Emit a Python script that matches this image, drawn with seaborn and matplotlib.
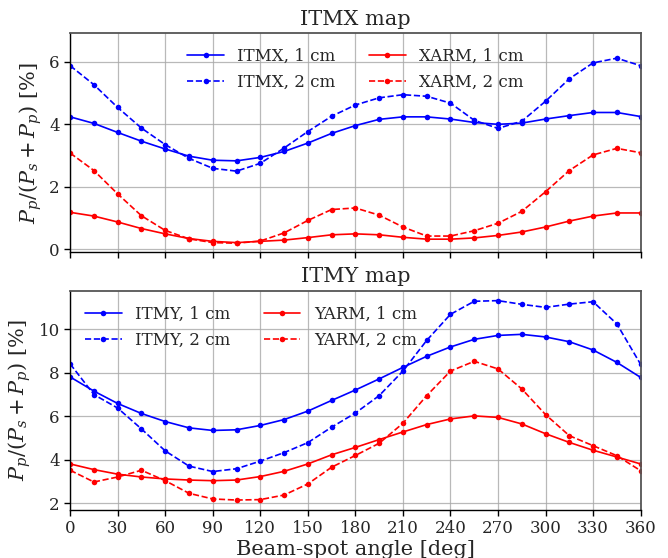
import numpy as np
import pandas as pd
import matplotlib
matplotlib.use("Agg")
import matplotlib.pyplot as plt
import seaborn as sns

# ── Datos ─────────────────────────────────────────────────
angles = list(range(0, 361, 15))

itmx_1cm = [4.24, 4.03, 3.74, 3.46, 3.21, 2.98, 2.85, 2.83, 2.94, 3.13, 3.40, 3.71, 3.96,
            4.16, 4.24, 4.24, 4.17, 4.06, 4.00, 4.04, 4.17, 4.28, 4.38, 4.38, 4.25]
itmx_2cm = [5.88, 5.27, 4.54, 3.88, 3.35, 2.91, 2.59, 2.50, 2.75, 3.24, 3.77, 4.26, 4.62,
            4.85, 4.95, 4.90, 4.68, 4.13, 3.87, 4.10, 4.74, 5.46, 5.97, 6.12, 5.88]
xarm_1cm = [1.18, 1.06, 0.87, 0.66, 0.49, 0.34, 0.25, 0.21, 0.25, 0.29, 0.37, 0.46, 0.49,
            0.46, 0.38, 0.32, 0.32, 0.36, 0.44, 0.55, 0.71, 0.90, 1.06, 1.16, 1.16]
xarm_2cm = [3.08, 2.52, 1.77, 1.07, 0.60, 0.33, 0.21, 0.19, 0.26, 0.52, 0.92, 1.27, 1.32,
            1.09, 0.71, 0.42, 0.42, 0.59, 0.83, 1.21, 1.84, 2.52, 3.02, 3.23, 3.09]

itmy_1cm = [7.81, 7.16, 6.59, 6.13, 5.76, 5.47, 5.35, 5.38, 5.58, 5.85, 6.24, 6.73, 7.21,
            7.72, 8.25, 8.76, 9.19, 9.54, 9.72, 9.77, 9.65, 9.43, 9.05, 8.48, 7.79]
itmy_2cm = [8.41, 7.00, 6.38, 5.42, 4.41, 3.71, 3.46, 3.59, 3.94, 4.33, 4.79, 5.50, 6.15,
            6.95, 8.08, 9.49, 10.69, 11.29, 11.32, 11.15, 11.01, 11.16, 11.27, 10.25, 8.39]
yarm_1cm = [3.81, 3.55, 3.34, 3.21, 3.12, 3.07, 3.04, 3.07, 3.23, 3.47, 3.81, 4.23, 4.57,
            4.93, 5.28, 5.62, 5.88, 6.02, 5.95, 5.65, 5.20, 4.80, 4.44, 4.13, 3.81]
yarm_2cm = [3.52, 2.98, 3.21, 3.52, 3.04, 2.46, 2.20, 2.15, 2.17, 2.38, 2.89, 3.66, 4.20,
            4.76, 5.68, 6.95, 8.08, 8.53, 8.18, 7.26, 6.08, 5.11, 4.65, 4.19, 3.50]

# ── Configuración global ──────────────────────────────────
sns.set_theme(style="whitegrid")
plt.rcParams["font.family"] = "DejaVu Serif"
plt.rcParams["mathtext.fontset"] = "dejavuserif"

fig, (ax1, ax2) = plt.subplots(2, 1, figsize=(6.68, 5.58), dpi=100, sharex=True)
fig.subplots_adjust(left=0.105, right=0.959, top=0.941, bottom=0.086, hspace=0.175)


def _panel(ax, series, title):
    for vals, label, color, ls in series:
        sns.lineplot(x=angles, y=vals, ax=ax, color=color, linestyle=ls,
                     linewidth=1.2, marker="o", markersize=4,
                     markeredgewidth=0, label=label)
    ax.set_title(title, fontsize=15, pad=6)
    ax.set_ylabel(r"$P_p/(P_s+P_p)$ [%]", fontsize=15)
    ax.set_facecolor("white")
    ax.grid(True, color="#a8a8a8", linewidth=0.9, alpha=0.8)
    for side in ["top", "right"]:
        ax.spines[side].set_color("#555555")
        ax.spines[side].set_linewidth(1.3)
    for side in ["left", "bottom"]:
        ax.spines[side].set_color("black")
        ax.spines[side].set_linewidth(1.0)
    ax.tick_params(axis="both", which="major", labelsize=12, direction="out",
                   length=4, width=1, color="black", left=True, bottom=True)


_panel(ax1, [(itmx_1cm, "ITMX, 1 cm", "blue", "-"),
             (itmx_2cm, "ITMX, 2 cm", "blue", "--"),
             (xarm_1cm, "XARM, 1 cm", "red", "-"),
             (xarm_2cm, "XARM, 2 cm", "red", "--")], "ITMX map")
_panel(ax2, [(itmy_1cm, "ITMY, 1 cm", "blue", "-"),
             (itmy_2cm, "ITMY, 2 cm", "blue", "--"),
             (yarm_1cm, "YARM, 1 cm", "red", "-"),
             (yarm_2cm, "YARM, 2 cm", "red", "--")], "ITMY map")

ax1.set_ylim(-0.1, 6.93)
ax1.set_yticks([0, 2, 4, 6])
ax1.legend(loc="upper center", ncol=2, fontsize=12, frameon=False,
           columnspacing=2.0, handlelength=2.2, borderaxespad=0.5,
           labelspacing=0.55)
ax2.set_yticks([2, 4, 6, 8, 10])
ax2.legend(loc="upper left", ncol=2, fontsize=12, frameon=False,
           columnspacing=2.0, handlelength=2.2, borderaxespad=0.5,
           labelspacing=0.55)

ax2.set_xlim(0, 360)
ax2.set_xticks(range(0, 361, 30))
ax2.set_xlabel("Beam-spot angle [deg]", fontsize=15, labelpad=2)
ax1.tick_params(labelbottom=False)

fig.savefig("out.png", dpi=100)
